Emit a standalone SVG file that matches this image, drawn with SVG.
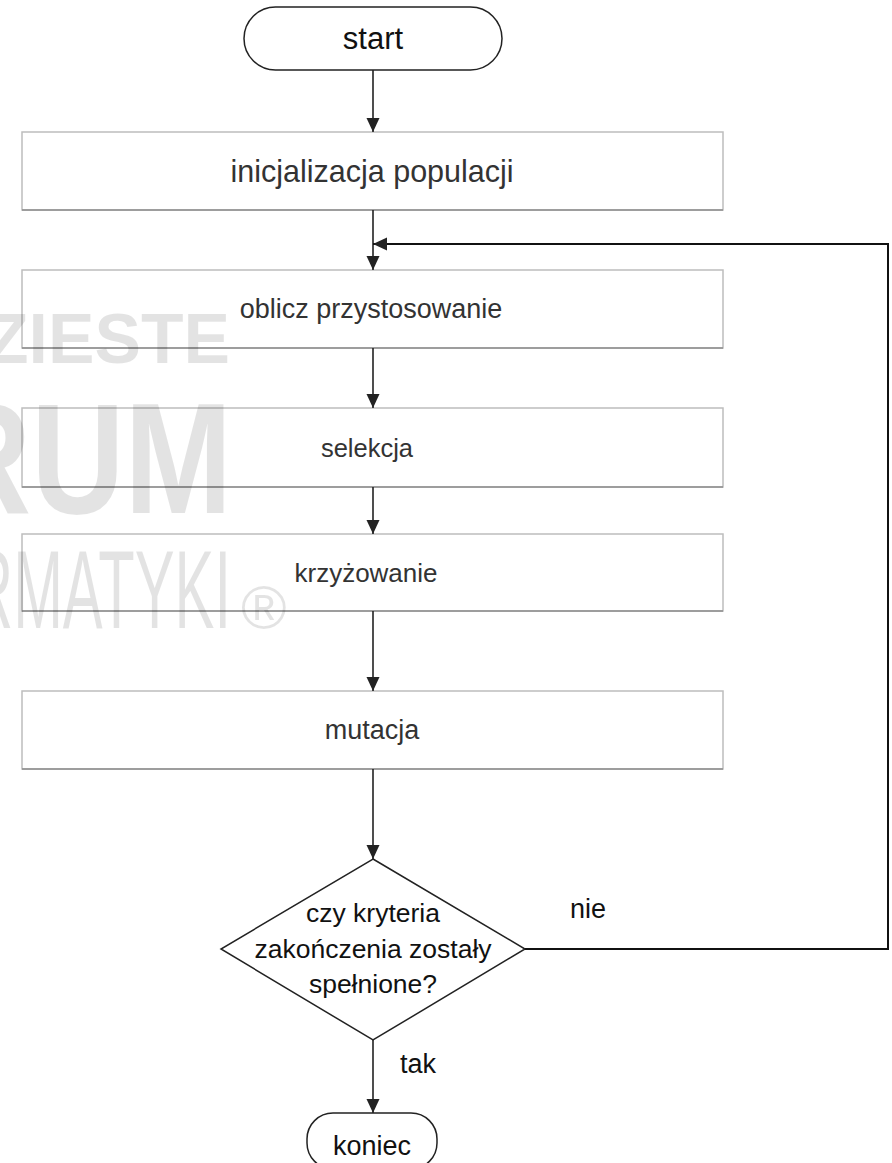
<svg xmlns="http://www.w3.org/2000/svg" width="892" height="1163" viewBox="0 0 892 1163">
  <style>
    .term { fill: #ffffff; stroke: #222222; stroke-width: 1.5; }
    .box { fill: #ffffff; stroke: #bdbdbd; stroke-width: 1.5; }
    .box-base { stroke: #8c8c8c; stroke-width: 1.5; }
    .decision { fill: #ffffff; stroke: #222222; stroke-width: 1.5; }
    .label { font-family: "Liberation Sans", Arial, sans-serif; fill: #333333; text-anchor: middle; }
    .dark { fill: #111111; }
    .edge { fill: none; stroke: #222222; stroke-width: 1.6; }
    .loop { fill: none; stroke: #111111; stroke-width: 2; }
    .mark { font-family: "Liberation Sans", Arial, sans-serif; fill: #000000; fill-opacity: 0.11; }
  </style>
  <defs>
    <marker id="arrow" markerUnits="userSpaceOnUse" markerWidth="14" markerHeight="14" viewBox="0 0 14 14" refX="14" refY="7" orient="auto">
      <path d="M0,0.5 L14,7 L0,13.5 z" fill="#222222"/>
    </marker>
  </defs>

  <rect width="892" height="1163" fill="#ffffff"/>

  <!-- process steps -->
  <g id="start">
    <rect class="term" x="244" y="7" width="258" height="63" rx="31.5"/>
    <text class="label dark" x="373" y="49" font-size="31">start</text>
  </g>

  <g id="inicjalizacja">
    <rect class="box" x="22" y="132" width="701" height="78"/>
    <line class="box-base" x1="22" y1="210" x2="723" y2="210"/>
    <text class="label" x="372" y="182" font-size="30.5">inicjalizacja populacji</text>
  </g>

  <g id="przystosowanie">
    <rect class="box" x="22" y="270" width="701" height="78"/>
    <line class="box-base" x1="22" y1="348" x2="723" y2="348"/>
    <text class="label" x="371" y="318" font-size="27">oblicz przystosowanie</text>
  </g>

  <g id="selekcja">
    <rect class="box" x="22" y="408" width="701" height="79"/>
    <line class="box-base" x1="22" y1="487" x2="723" y2="487"/>
    <text class="label" x="367" y="457" font-size="25.5">selekcja</text>
  </g>

  <g id="krzyzowanie">
    <rect class="box" x="22" y="534" width="701" height="77"/>
    <line class="box-base" x1="22" y1="611" x2="723" y2="611"/>
    <text class="label" x="366" y="582" font-size="26">krzyżowanie</text>
  </g>

  <g id="mutacja">
    <rect class="box" x="22" y="691" width="701" height="78"/>
    <line class="box-base" x1="22" y1="769" x2="723" y2="769"/>
    <text class="label" x="372" y="739" font-size="27">mutacja</text>
  </g>

  <g id="kryteria">
    <polygon class="decision" points="373,859 525,949 373,1040 221,949"/>
    <text class="label dark" x="373" y="922" font-size="26.5">czy kryteria</text>
    <text class="label dark" x="373" y="958" font-size="26.5">zakończenia zostały</text>
    <text class="label dark" x="373" y="993" font-size="26.5">spełnione?</text>
  </g>

  <g id="koniec">
    <rect class="term" x="307" y="1113" width="130" height="56" rx="26"/>
    <text class="label dark" x="372" y="1155" font-size="27">koniec</text>
  </g>

  <!-- connectors -->
  <g id="connectors">
    <line class="edge" x1="373" y1="70" x2="373" y2="132" marker-end="url(#arrow)"/>
    <line class="edge" x1="373" y1="210" x2="373" y2="270" marker-end="url(#arrow)"/>
    <polyline class="loop" points="525,949 888,949 888,244 373,244" marker-end="url(#arrow)"/>
    <line class="edge" x1="373" y1="348" x2="373" y2="408" marker-end="url(#arrow)"/>
    <line class="edge" x1="373" y1="487" x2="373" y2="534" marker-end="url(#arrow)"/>
    <line class="edge" x1="373" y1="611" x2="373" y2="691" marker-end="url(#arrow)"/>
    <line class="edge" x1="373" y1="769" x2="373" y2="859" marker-end="url(#arrow)"/>
    <line class="edge" x1="373" y1="1040" x2="373" y2="1113" marker-end="url(#arrow)"/>
    <text class="label dark" x="588" y="918" font-size="27">nie</text>
    <text class="label dark" x="418" y="1073" font-size="27">tak</text>
  </g>

  <!-- watermark -->
  <g id="watermark">
    <text class="mark" x="-14" y="363" font-size="70" font-weight="bold" textLength="244" lengthAdjust="spacingAndGlyphs">ZIESTE</text>
    <text class="mark" x="-62" y="513" font-size="158" font-weight="bold" textLength="294" lengthAdjust="spacingAndGlyphs">RUM</text>
    <text class="mark" x="-30" y="628" font-size="112" textLength="261" lengthAdjust="spacingAndGlyphs">RMATYKI</text>
    <text class="mark" x="241" y="629" font-size="62">®</text>
  </g>
</svg>
